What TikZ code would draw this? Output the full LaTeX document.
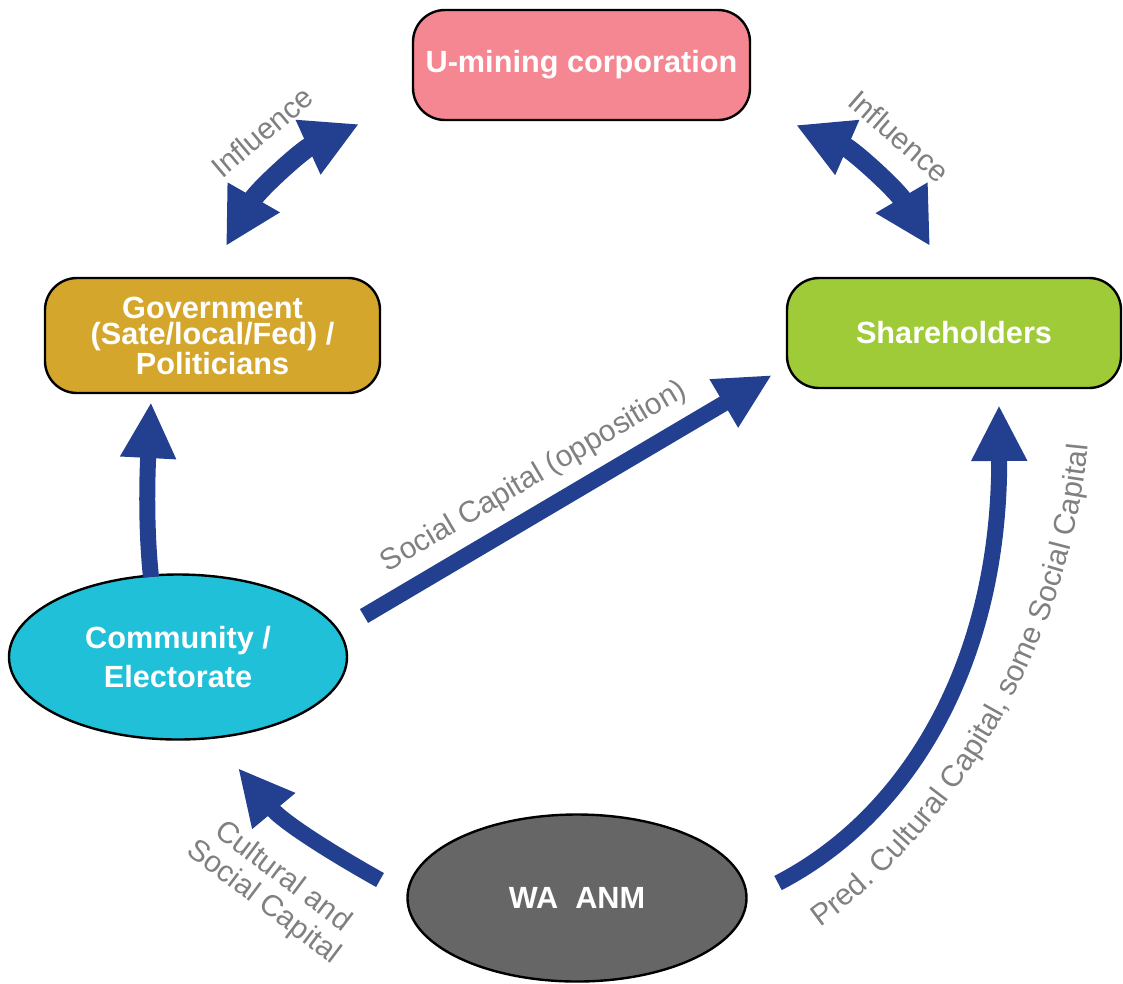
\documentclass[tikz,border=0pt]{standalone}
\usepackage{fontspec}
\setmainfont{Liberation Sans}
\usetikzlibrary{arrows.meta,shapes.geometric,decorations.text}
\definecolor{pinkbox}{RGB}{244,135,145}
\definecolor{goldbox}{RGB}{212,167,44}
\definecolor{greenbox}{RGB}{160,203,57}
\definecolor{cyanbox}{RGB}{31,192,216}
\definecolor{graybox}{RGB}{102,102,102}
\definecolor{arrowblue}{RGB}{35,63,143}
\definecolor{labelgray}{RGB}{128,128,128}
\newcommand{\nodefont}{\bfseries\fontsize{23}{19.5}\selectfont}
\newcommand{\lblfont}{\fontsize{22.5}{24}\selectfont}
\begin{document}
\begin{tikzpicture}[x=0.75pt,y=-0.75pt,
  box/.style={draw=black, line width=1.8pt, rounded corners=24pt, text=white,
    font=\nodefont, align=center, inner sep=0pt},
  oval/.style={ellipse, draw=black, line width=1.8pt, text=white,
    font=\bfseries\fontsize{23}{29}\selectfont, align=center, inner sep=0pt},
  flow/.style={draw=arrowblue, line width=12pt,
    -{Triangle[width=39pt,length=42pt]}},
  infl/.style={draw=arrowblue, line width=14.5pt,
    {Triangle[width=42pt,length=42pt]}-{Triangle[width=42pt,length=42pt]}},
  lbl/.style={text=labelgray, font=\lblfont, inner sep=0pt, align=center}
]
\useasboundingbox (0,0) rectangle (1123,983);

% nodes
\node[box, fill=pinkbox, minimum width=252.75pt, minimum height=82.5pt] (umc) at (581.5,65) {U-mining corporation};
\node[box, fill=goldbox, minimum width=251.25pt, minimum height=86.25pt] (gov) at (212.5,335.5) {Government\\(Sate/local/Fed) /\\Politicians};
\node[box, fill=greenbox, minimum width=250.5pt, minimum height=82.5pt] (sh) at (954,333) {Shareholders};
\node[oval, fill=cyanbox, minimum width=253.5pt, minimum height=123.75pt] (comm) at (178,657) {Community /\\Electorate};
\node[oval, fill=graybox, minimum width=254.25pt, minimum height=125.25pt] (wa) at (577,898) {WA\ \ ANM};

% arrow end points
\coordinate (i1a) at (226,246);
\coordinate (i1b) at (359,124);
\coordinate (i2a) at (796,125);
\coordinate (i2b) at (930,246);
\coordinate (cga) at (151,577);
\coordinate (cgb) at (151,402);
\coordinate (csa) at (364,616);
\coordinate (csb) at (772,375);
\coordinate (wca) at (380,880);
\coordinate (wcb) at (238,768);
\coordinate (wsa) at (778,883);
\coordinate (wsb) at (999,405);

% arrows
\draw[infl] (i1a) .. controls (258,190) and (302,150) .. (i1b);
\draw[infl] (i2a) .. controls (853,150) and (897,190) .. (i2b);
\draw[flow] (cga) .. controls (146,530) and (147,480) .. (cgb);
\draw[flow] (csa) -- (csb);
\draw[flow] (wca) .. controls (330,852) and (283,822) .. (wcb);
\draw[flow] (wsa) .. controls (910,815) and (1000,660) .. (wsb);

% labels
\node[lbl, rotate=40] (l1) at (262,132) {Influence};
\node[lbl, rotate=-41] (l2) at (899,136) {Influence};
\node[lbl, rotate=30.5] (l3) at (534,477) {Social Capital (opposition)};
\node[lbl, rotate=-37] (l4) at (273,890) {Cultural and\\Social Capital};
\coordinate (t0) at (820,927);
\coordinate (t1) at (1092,380);
\path[decorate, decoration={text along path, text align=left,
   text color=labelgray,
   text={|\lblfont|Pred. Cultural Capital, some Social Capital}}]
   (t0) .. controls (935,845) and (1090,650) .. (t1);
\end{tikzpicture}
\end{document}
